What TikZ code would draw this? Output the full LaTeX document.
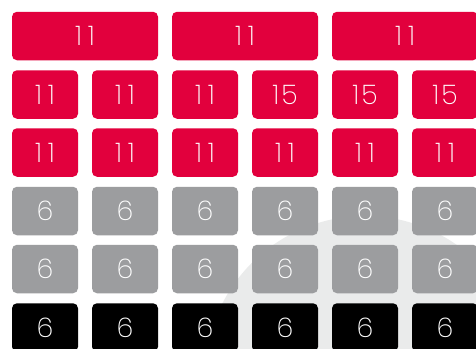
\documentclass[tikz,border=0pt]{standalone}
\usepackage{fontspec}
\setmainfont{Poppins ExtraLight}
\definecolor{boxred}{HTML}{E2003D}
\definecolor{boxgray}{HTML}{9C9D9F}
\definecolor{bgcircle}{HTML}{EAEBEB}
\newcommand{\eleven}{1\kern6pt1}
\newcommand{\fifteen}{1\kern2pt5}
\begin{document}
\begin{tikzpicture}[x=1pt,y=-1pt,
  cell/.style={rounded corners=5pt, minimum width=66pt, minimum height=48.5pt, inner sep=0pt,
    text=white, font=\fontsize{27}{27}\selectfont, anchor=center},
  redcell/.style={cell, fill=boxred},
  graycell/.style={cell, fill=boxgray},
  blackcell/.style={cell, fill=black},
  widecell/.style={redcell, minimum width=146pt}]
\useasboundingbox (0,0) rectangle (476,348);
\fill[white] (0,0) rectangle (476,348);
\begin{scope}
\clip (0,0) rectangle (476,348);
\fill[bgcircle] (365,376) circle[radius=160];
% row 1
\node[widecell] (w1) at (85,36) {\eleven};
\node[widecell] (w2) at (245,36) {\eleven};
\node[widecell] (w3) at (405,36) {\eleven};
% row 2
\foreach \x/\v [count=\i] in {45/\eleven,125/\eleven,205/\eleven,285/\fifteen,365/\fifteen,445/\fifteen}
  \node[redcell] (b\i) at (\x,94.5) {\v};
% row 3
\foreach \x [count=\i] in {45,125,205,285,365,445}
  \node[redcell] (c\i) at (\x,152.5) {\eleven};
% row 4
\foreach \x [count=\i] in {45,125,205,285,365,445}
  \node[graycell] (d\i) at (\x,211) {6};
% row 5
\foreach \x [count=\i] in {45,125,205,285,365,445}
  \node[graycell] (e\i) at (\x,269) {6};
% row 6
\foreach \x [count=\i] in {45,125,205,285,365,445}
  \node[blackcell] (f\i) at (\x,327.5) {6};
\end{scope}
\end{tikzpicture}
\end{document}
